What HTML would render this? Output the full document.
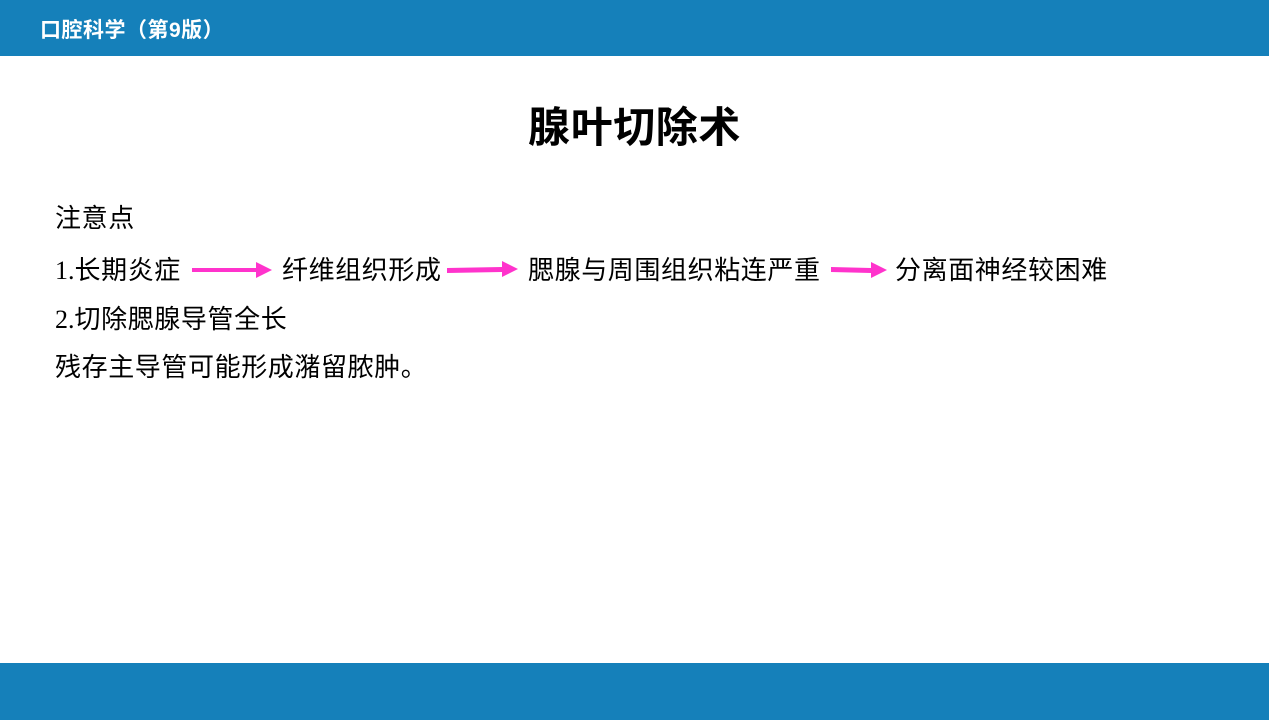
<!DOCTYPE html>
<html><head><meta charset="utf-8"><style>
body{margin:0;width:1269px;height:720px;position:relative;background:#fff;font-family:"Liberation Sans","Noto Sans CJK SC",sans-serif;overflow:hidden}
.bar{position:absolute;left:0;width:1269px;background:#1580ba}
.t{position:absolute;white-space:nowrap;font-size:26px;letter-spacing:0.6px;color:#000;line-height:1}
</style></head><body>
<div class="bar" style="top:0;height:56px"></div>
<div class="bar" style="top:663px;height:57px"></div>
<div class="t" style="left:40px;top:20px;font-size:21px;letter-spacing:0.5px;font-weight:bold;color:#fff">口腔科学（第9版）</div>
<div class="t" style="left:528px;top:107px;font-size:42px;letter-spacing:0.6px;font-weight:bold">腺叶切除术</div>
<div class="t" style="left:55px;top:205px">注意点</div>
<div class="t" style="left:55px;top:257px"><span style="font-family:'Liberation Serif',serif;letter-spacing:0">1.</span>长期炎症</div>
<div class="t" style="left:282px;top:257px">纤维组织形成</div>
<div class="t" style="left:528px;top:257px">腮腺与周围组织粘连严重</div>
<div class="t" style="left:895px;top:257px">分离面神经较困难</div>
<div class="t" style="left:55px;top:306px"><span style="font-family:'Liberation Serif',serif;letter-spacing:0">2.</span>切除腮腺导管全长</div>
<div class="t" style="left:55px;top:354px">残存主导管可能形成潴留脓肿。</div>
<svg style="position:absolute;left:0;top:0" width="1269" height="720">
<g fill="#ff33cc">
<polygon points="192,268 256,268 256,262 272,270 256,278 256,272 192,272"/>
<polygon points="447,268 502,267 502,261 518,269 502,277 502,272 447,273"/>
<polygon points="831,267 871,268 871,262 887,270 871,278 871,273 831,272"/>
</g></svg>
</body></html>
